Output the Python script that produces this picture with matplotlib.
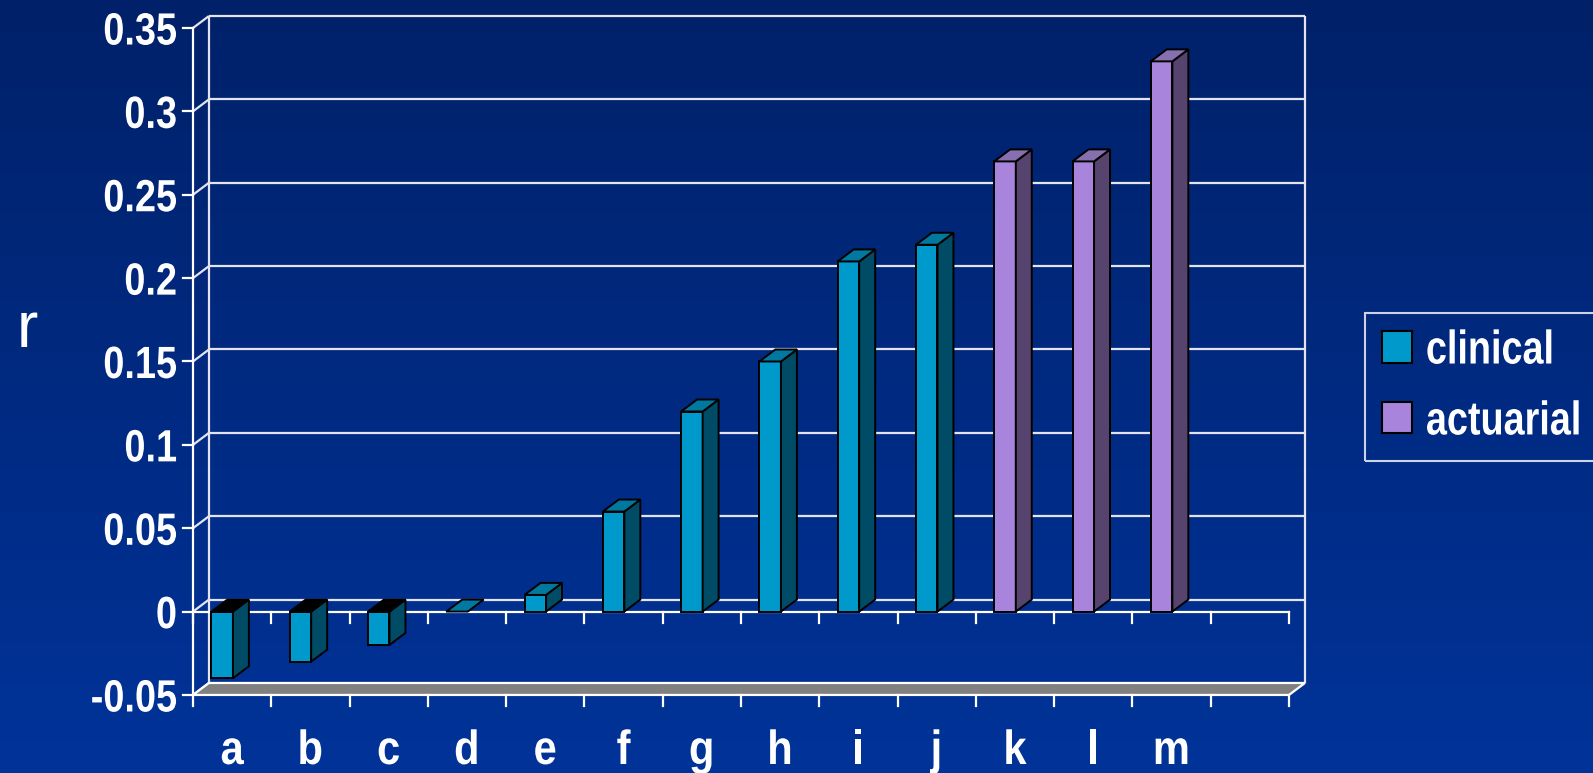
import numpy as np
import matplotlib.pyplot as plt
from matplotlib.patches import Polygon, Patch
from matplotlib.colors import LinearSegmentedColormap
from matplotlib.patheffects import AbstractPathEffect
from matplotlib.transforms import Affine2D

# correlation per study, grouped by method
categories = list('abcdefghijklm')
values = [-0.04, -0.03, -0.02, 0.0, 0.01, 0.06, 0.12, 0.15, 0.21, 0.22, 0.27, 0.27, 0.33]
methods = ['clinical'] * 10 + ['actuarial'] * 3
series_names = ['clinical', 'actuarial']
yticks = [-0.05, 0.0, 0.05, 0.1, 0.15, 0.2, 0.25, 0.3, 0.35]
ytick_labels = ['-0.05', '0', '0.05', '0.1', '0.15', '0.2', '0.25', '0.3', '0.35']

palette = {
    'clinical': {'front': '#0099CC', 'side': '#004C66', 'top': '#0078A0'},
    'actuarial': {'front': '#A884DC', 'side': '#56436E', 'top': '#8770B0'},
}

FONT = ['Liberation Sans', 'DejaVu Sans']
WHITE = '#FFFFFF'
GRID = '#E4E4F0'


class Condense(AbstractPathEffect):
    """Squeeze text horizontally, like a narrow typeface."""

    def __init__(self, sx, anchor='left'):
        super().__init__()
        self.sx = sx
        self.anchor = anchor

    def draw_path(self, renderer, gc, tpath, affine, rgbFace=None):
        pts = affine.transform(tpath.vertices)
        x0, x1 = pts[:, 0].min(), pts[:, 0].max()
        px = {'left': x0, 'right': x1, 'center': 0.5 * (x0 + x1)}[self.anchor]
        squeeze = Affine2D().translate(-px, 0).scale(self.sx, 1).translate(px, 0)
        renderer.draw_path(gc, tpath, affine + squeeze, rgbFace)


n_slots = len(categories) + 1      # one empty slot at the right end
ymin, ymax = yticks[0], yticks[-1]
dx, dy = 0.204, 0.0072             # depth offset of the back wall
tick_x, tick_y = 0.128, 0.0066

fig = plt.figure(figsize=(15.93, 7.73), dpi=100)
ax = fig.add_axes([0, 0, 1, 1])
xlim = (-2.465, 17.883)
ylim = (-0.0968, 0.3668)
ax.set_xlim(*xlim)
ax.set_ylim(*ylim)
ax.axis('off')

# dark blue vertical gradient
bg = LinearSegmentedColormap.from_list('bg', ['#003399', '#002169'])
ax.imshow(np.linspace(0, 1, 256).reshape(-1, 1), cmap=bg, origin='lower',
          extent=[*xlim, *ylim], aspect='auto', zorder=0)

line_kw = dict(color=GRID, lw=1.6, zorder=1, solid_capstyle='butt')

# back wall, left wall and y axis
for t in yticks:
    if t > ymin:
        ax.plot([dx, n_slots + dx], [t + dy, t + dy], **line_kw)
    ax.plot([0, dx], [t, t + dy], **line_kw)
    ax.plot([-tick_x, 0], [t, t], color=WHITE, lw=1.6, zorder=1)
ax.plot([dx, dx], [ymin + dy, ymax + dy], **line_kw)
ax.plot([n_slots + dx, n_slots + dx], [ymin + dy, ymax + dy], **line_kw)
ax.plot([0, 0], [ymin, ymax], color=WHITE, lw=1.6, zorder=1)

# floor
floor = Polygon([(0, ymin), (n_slots, ymin), (n_slots + dx, ymin + dy), (dx, ymin + dy)],
                closed=True, facecolor='#808080', edgecolor=WHITE, lw=1.6, zorder=1)
ax.add_patch(floor)

# category axis at zero and at the floor, with ticks at slot boundaries
ax.plot([0, n_slots], [0, 0], color=WHITE, lw=1.6, zorder=1)
for k in range(n_slots + 1):
    ax.plot([k, k], [0, -tick_y], color=WHITE, lw=1.6, zorder=1)
    ax.plot([k, k], [ymin, ymin - tick_y], color=WHITE, lw=1.6, zorder=2)

# 3-D bars
edge_kw = dict(edgecolor='black', lw=1.4, joinstyle='miter', zorder=3)
for i, (v, m) in enumerate(zip(values, methods)):
    c = palette[m]
    x0, x1 = i + 0.235, i + 0.51
    if v != 0:
        ax.add_patch(Polygon([(x0, 0), (x1, 0), (x1, v), (x0, v)],
                             facecolor=c['front'], **edge_kw))
        lo, hi = min(v, 0), max(v, 0)
        ax.add_patch(Polygon([(x1, lo), (x1 + dx, lo + dy), (x1 + dx, hi + dy), (x1, hi)],
                             facecolor=c['side'], **edge_kw))
    cap_y = max(v, 0)
    cap_color = 'black' if v < 0 else c['top']
    ax.add_patch(Polygon([(x0, cap_y), (x1, cap_y), (x1 + dx, cap_y + dy), (x0 + dx, cap_y + dy)],
                         facecolor=cap_color, **edge_kw))

# tick labels
for t, lab in zip(yticks, ytick_labels):
    ax.text(-0.2, t - 0.0099, lab, ha='right', va='baseline', color=WHITE,
            fontsize=32.5, fontweight='bold', family=FONT,
            path_effects=[Condense(0.84, 'right')])
for i, c in enumerate(categories):
    ax.text(i + 0.5, -0.0914, c, ha='center', va='baseline', color=WHITE,
            fontsize=34.5, fontweight='bold', family=FONT,
            path_effects=[Condense(0.87, 'center')])

ax.text(-2.12, 0.1588, 'r', ha='center', va='baseline', color=WHITE,
        fontsize=46, family=FONT)

handles = [Patch(facecolor=palette[s]['front'], edgecolor='black', lw=1.5) for s in series_names]
leg = fig.legend(handles, series_names, loc='upper left',
                 bbox_to_anchor=(1365 / 1593, 1 - 313 / 773), borderaxespad=0,
                 frameon=True, fancybox=False, facecolor='none', edgecolor=WHITE,
                 prop={'family': FONT, 'weight': 'bold', 'size': 34},
                 labelcolor=WHITE, handlelength=0.64, handleheight=0.64,
                 handletextpad=0.3, labelspacing=0.57, borderpad=0.35)
leg.get_frame().set_linewidth(1.5)
for txt in leg.get_texts():
    txt.set_path_effects([Condense(0.8, 'left')])

fig.savefig('out.png', dpi=100)
